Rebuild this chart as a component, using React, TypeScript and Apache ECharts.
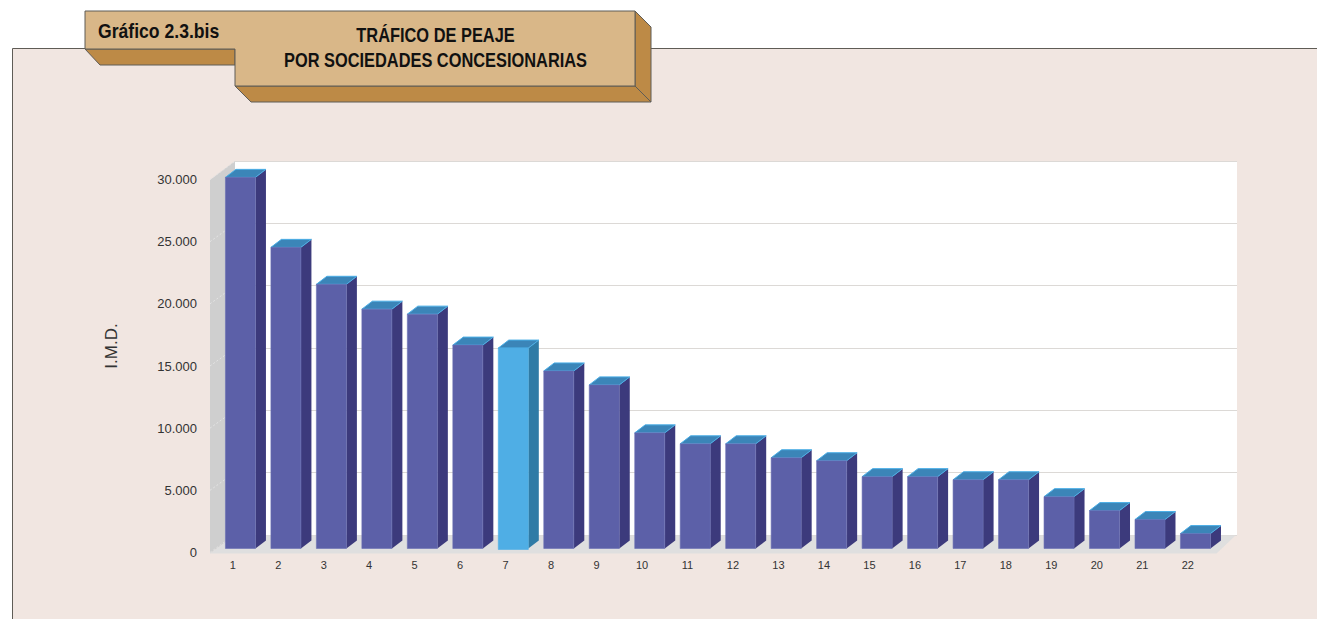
import React, { useEffect, useRef } from "react";
import * as echarts from "echarts";

const categories = ["1","2","3","4","5","6","7","8","9","10","11","12","13","14","15","16","17","18","19","20","21","22"];
const traffic = [29850,24220,21250,19250,18850,16360,16120,14280,13160,9300,8420,8420,7300,7060,5780,5780,5530,5530,4170,3050,2330,1200];
const highlighted = "7";
const axisTicks = [0,5000,10000,15000,20000,25000,30000];
const yTitle = "I.M.D.";
const badge = "Gráfico 2.3.bis";
const titleLines = ["TRÁFICO DE PEAJE", "POR SOCIEDADES CONCESIONARIAS"];

const PANEL = "#f1e6e1", TAN = "#d9b788", BROWN = "#bd8a46", EDGE = "#5f5c56";
const FONT = "'Liberation Sans', Arial, sans-serif";

export default function App() {
  const ref = useRef<HTMLDivElement>(null);
  useEffect(() => {
    document.body.style.margin = "0";
    const chart = echarts.init(ref.current!, null, { renderer: "svg" });
    const floorItem = (_: any, api: any) => {
      const [x0, y0] = api.coord([0, 0]);
      const s = api.size([1, 0])[0];
      const left = x0 - s / 2;
      const right = left + s * 22;
      return {
        type: "group",
        children: [
          { type: "polygon", shape: { points: [[left, y0 + 1], [left + 25, y0 - 17], [left + 25, 161], [left, 180]] }, style: { fill: "#cfcfcf" } },
          { type: "polygon", shape: { points: [[left, y0 + 1], [left + 25, y0 - 17], [right + 25, y0 - 17], [right + 6, y0 + 1]] }, style: { fill: "#dfdfdf" } },
        ],
      };
    };
    const wallLine = (_: any, api: any) => {
      const [x0] = api.coord([0, 0]);
      const s = api.size([1, 0])[0];
      const left = x0 - s / 2;
      const y = api.coord([0, api.value(1)])[1];
      return { type: "line", shape: { x1: left, y1: y, x2: left + 25, y2: y - 18 }, style: { stroke: "#e4e4e4", lineWidth: 1, lineDash: [2, 2] } };
    };
    const barItem = (_: any, api: any) => {
      const [cx, ty] = api.coord([api.value(0), api.value(1)]);
      const base = api.coord([api.value(0), 0])[1];
      const s = api.size([1, 0])[0];
      const w = s * 0.66;
      const x = cx + 7.7 - w / 2, y = ty - 4, b = base - 4, dx = 10.5, dy = 8;
      const hot = categories[api.value(0)] === highlighted;
      return {
        type: "group",
        children: [
          { type: "polygon", shape: { points: [[x + w, y], [x + w + dx, y - dy], [x + w + dx, b - dy], [x + w, b]] }, style: { fill: hot ? "#2f7ba6" : "#3c3a7c" } },
          { type: "polygon", shape: { points: [[x, y], [x + dx, y - dy], [x + w + dx, y - dy], [x + w, y]] }, style: { fill: "#3b85b8", stroke: "#4aaee6", lineWidth: 1 } },
          { type: "rect", shape: { x, y, width: w, height: b - y + (hot ? 1 : 0) }, style: { fill: hot ? "#4faee5" : "#5c60a8", stroke: hot ? "#4faee5" : "#6a6eb4", lineWidth: 0.6 } },
        ],
      };
    };
    chart.setOption({
      animation: false,
      backgroundColor: "#ffffff",
      grid: [
        { left: 210, right: 1317 - 1210.5, top: 179.5, bottom: 619 - 552.5, containLabel: false },
        { left: 235, right: 1317 - 1237, top: 161, bottom: 619 - 535, show: true, backgroundColor: "#ffffff", borderWidth: 0 },
      ],
      xAxis: [
        { type: "category", gridIndex: 0, data: categories, axisLine: { show: false }, axisTick: { show: false }, axisLabel: { color: "#333", fontSize: 11, fontFamily: FONT, margin: 7 } },
        { type: "category", gridIndex: 1, data: categories, show: false },
      ],
      yAxis: [
        {
          type: "value", gridIndex: 0, min: 0, max: 30000, interval: 5000,
          name: yTitle, nameLocation: "middle", nameGap: 90, nameRotate: 90,
          nameTextStyle: { color: "#333", fontSize: 17, fontFamily: FONT, padding: [0, 0, 0, 40] },
          axisLine: { show: false }, axisTick: { show: false }, splitLine: { show: false },
          axisLabel: { color: "#333", fontSize: 13, fontFamily: FONT, margin: 13, customValues: axisTicks, formatter: (v: number) => v === 0 ? "0" : `${v / 1000}.000` },
        },
        {
          type: "value", gridIndex: 1, min: 0, max: 30000, interval: 5000, axisLabel: { show: false }, axisLine: { show: false }, axisTick: { show: false },
          splitLine: { show: true, lineStyle: { color: "#dcd9d6", width: 1 } },
        },
      ],
      series: [
        { type: "custom", name: "floor", xAxisIndex: 0, yAxisIndex: 0, renderItem: floorItem, data: [[0, 0]], silent: true, z: 3, clip: false },
        { type: "custom", name: "wall", xAxisIndex: 0, yAxisIndex: 0, renderItem: wallLine, data: axisTicks.map((t) => [0, t]), silent: true, z: 4, clip: false },
        { type: "custom", name: "I.M.D.", xAxisIndex: 0, yAxisIndex: 0, renderItem: barItem, data: traffic.map((v, i) => [i, v]), z: 5, clip: false },
      ],
      graphic: [
        { type: "rect", z: -10, shape: { x: 12.5, y: 48.5, width: 1310, height: 600 }, style: { fill: PANEL, stroke: EDGE, lineWidth: 1 } },
        { type: "group", z: 100, children: [
          { type: "polygon", shape: { points: [[85, 49], [100, 65], [235, 65], [235, 49]] }, style: { fill: BROWN, stroke: EDGE, lineWidth: 1 } },
          { type: "polygon", shape: { points: [[235, 86], [251, 102], [651, 102], [651, 27], [635, 11], [635, 86]] }, style: { fill: BROWN, stroke: EDGE, lineWidth: 1 } },
          { type: "line", shape: { x1: 635, y1: 86, x2: 651, y2: 102 }, style: { stroke: EDGE, lineWidth: 1 } },
          { type: "polygon", shape: { points: [[85, 11], [635, 11], [635, 86], [235, 86], [235, 49], [85, 49]] }, style: { fill: TAN, stroke: EDGE, lineWidth: 1 } },
          { type: "text", x: 98, y: 31, scaleX: 0.88, style: { text: badge, fill: "#111", font: `bold 20px ${FONT}`, textVerticalAlign: "middle" } },
          { type: "text", x: 435.5, y: 35, scaleX: 0.82, style: { text: titleLines[0], fill: "#111", font: `bold 20px ${FONT}`, textAlign: "center", textVerticalAlign: "middle" } },
          { type: "text", x: 435.5, y: 60, scaleX: 0.82, style: { text: titleLines[1], fill: "#111", font: `bold 20px ${FONT}`, textAlign: "center", textVerticalAlign: "middle" } },
        ] },
      ],
    });
    return () => chart.dispose();
  }, []);
  return <div ref={ref} style={{ width: 1317, height: 619 }} />;
}
